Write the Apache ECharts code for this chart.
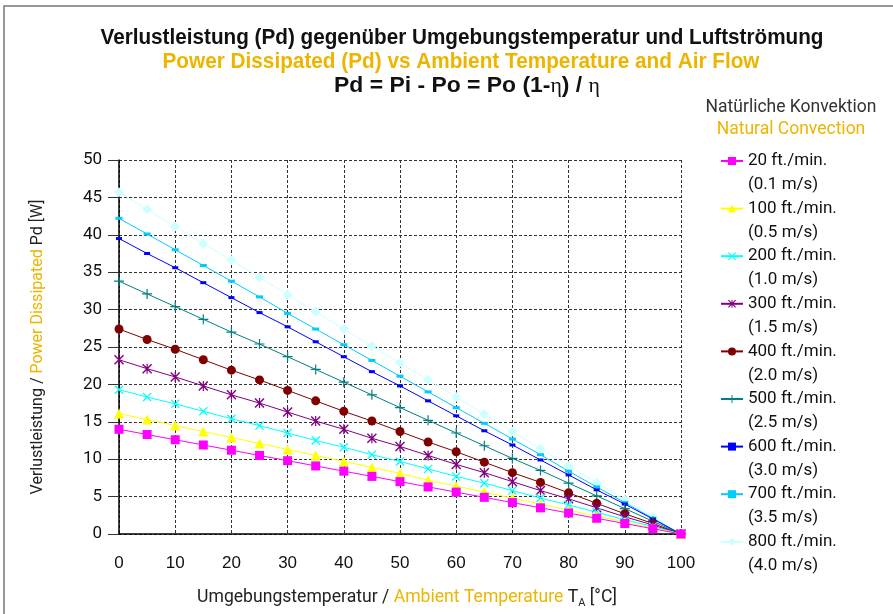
<!DOCTYPE html>
<html><head><meta charset="utf-8">
<script src="https://cdn.jsdelivr.net/npm/echarts@6/dist/echarts.min.js"></script>
<style>html,body{margin:0;padding:0;background:#fff}#c{width:893px;height:614px}</style>
</head><body><div id="c"></div>
<script>
const temps = [0,5,10,15,20,25,30,35,40,45,50,55,60,65,70,75,80,85,90,95,100];
const names = ['20 ft./min.','100 ft./min.','200 ft./min.','300 ft./min.','400 ft./min.','500 ft./min.','600 ft./min.','700 ft./min.','800 ft./min.'];
const speeds = ['(0.1 m/s)','(0.5 m/s)','(1.0 m/s)','(1.5 m/s)','(2.0 m/s)','(2.5 m/s)','(3.0 m/s)','(3.5 m/s)','(4.0 m/s)'];
const s20  = [14.0,13.3,12.6,11.9,11.2,10.5,9.8,9.1,8.4,7.7,7.0,6.3,5.6,4.9,4.2,3.5,2.8,2.1,1.4,0.7,0];
const s100 = [16.1,15.3,14.5,13.7,12.9,12.1,11.3,10.5,9.7,8.9,8.1,7.2,6.4,5.6,4.8,4.0,3.2,2.4,1.6,0.8,0];
const s200 = [19.3,18.3,17.4,16.4,15.4,14.5,13.5,12.5,11.6,10.6,9.7,8.7,7.7,6.8,5.8,4.8,3.9,2.9,1.9,1.0,0];
const s300 = [23.3,22.1,21.0,19.8,18.6,17.5,16.3,15.1,14.0,12.8,11.7,10.5,9.3,8.2,7.0,5.8,4.7,3.5,2.3,1.2,0];
const s400 = [27.4,26.0,24.7,23.3,21.9,20.6,19.2,17.8,16.4,15.1,13.7,12.3,11.0,9.6,8.2,6.9,5.5,4.1,2.7,1.4,0];
const s500 = [33.8,32.1,30.4,28.7,27.0,25.4,23.7,22.0,20.3,18.6,16.9,15.2,13.5,11.8,10.1,8.5,6.8,5.1,3.4,1.7,0];
const s600 = [39.5,37.5,35.6,33.6,31.6,29.6,27.7,25.7,23.7,21.7,19.8,17.8,15.8,13.8,11.9,9.9,7.9,5.9,4.0,2.0,0];
const s700 = [42.2,40.1,38.0,35.9,33.8,31.7,29.5,27.4,25.3,23.2,21.1,19.0,16.9,14.8,12.7,10.6,8.4,6.3,4.2,2.1,0];
const s800 = [45.7,43.4,41.1,38.8,36.6,34.3,32.0,29.7,27.4,25.1,22.9,20.6,18.3,16.0,13.7,11.4,9.1,6.9,4.6,2.3,0];
const seriesValues = [s20,s100,s200,s300,s400,s500,s600,s700,s800];
const title1 = 'Verlustleistung (Pd) gegenüber Umgebungstemperatur und Luftströmung';
const title2 = 'Power Dissipated (Pd) vs Ambient Temperature and Air Flow';
const title3a = 'Pd = Pi - Po = Po (1-', title3b = ') / ', eta = 'η';

const colors = ['#FF00FF','#FFFF00','#00FFFF','#800080','#800000','#008080','#0000FF','#00CCFF','#CCFFFF'];
const xPath = 'M1,0L5,4L9,0L10,1L6,5L10,9L9,10L5,6L1,10L0,9L4,5L0,1Z';
const symbols = [
  ['rect', 9],
  ['triangle', 10],
  ['path://' + xPath, 9],
  ['path://' + xPath + 'M4.4,0L5.6,0L5.6,10L4.4,10Z', 10],
  ['circle', 9],
  ['path://M4.4,0H5.6V4.4H10V5.6H5.6V10H4.4V5.6H0V4.4H4.4Z', 10],
  ['rect', [6,3]],
  ['rect', [7,3]],
  ['diamond', 10]
];
const YEL = '#EDB500';
const TF = '"Liberation Sans", Arial, sans-serif';
const SERIF = '"Liberation Serif", "DejaVu Serif", serif';
const ctx = document.createElement('canvas').getContext('2d');
function textW(t, font) { ctx.font = font; return ctx.measureText(t).width; }
const bFont = 'bold 22px ' + TF, eFont = '21px ' + SERIF;
const sc1 = 723 / textW(title1, bFont);
const sc2 = 597 / textW(title2, bFont);
const sc3 = 266 / (textW(title3a, bFont) + textW(title3b, bFont) + 2 * textW(eta, eFont));

const chart = echarts.init(document.getElementById('c'));
const series = names.map((n, i) => ({
  name: n, type: 'line',
  data: temps.map((t, j) => [t, seriesValues[i][j]]),
  symbol: symbols[i][0], symbolSize: symbols[i][1], showSymbol: true,
  itemStyle: {color: colors[i]},
  lineStyle: {color: colors[i], width: 1},
  animation: false, z: 3 + (8 - i)
}));
const legendText = {fontFamily: 'Roboto, sans-serif', fontSize: 17, color: '#111', lineHeight: 24};
chart.setOption({
  animation: false,
  title: [
    {text: 'Natürliche Konvektion', left: 786, top: 94, textAlign: 'center',
     textStyle: {fontFamily: 'Roboto, sans-serif', fontWeight: 'normal', fontSize: 17.5, color: '#333'}},
    {text: 'Natural Convection', left: 786, top: 116, textAlign: 'center',
     textStyle: {fontFamily: 'Roboto, sans-serif', fontWeight: 'normal', fontSize: 17.5, color: YEL}}
  ],
  legend: [{
    orient: 'vertical', left: 715, top: 144, itemWidth: 22, itemHeight: 10, itemGap: 23.6, itemTextGap: 5,
    selectedMode: false, data: names, textStyle: legendText
  }, {
    orient: 'vertical', left: 715, top: 168, itemWidth: 22, itemHeight: 10, itemGap: 23.6, itemTextGap: 5,
    selectedMode: false, data: names, textStyle: legendText,
    formatter: (n) => speeds[names.indexOf(n)],
    itemStyle: {opacity: 0}, lineStyle: {opacity: 0}
  }],
  grid: {left: 119, right: 212, top: 160, bottom: 77},
  xAxis: {
    type: 'value', min: 0, max: 100, interval: 10,
    axisLine: {show: true, lineStyle: {color: '#000', width: 1.5}},
    axisTick: {show: false},
    axisLabel: {margin: 21, fontFamily: TF, fontSize: 17, color: '#111'},
    splitLine: {show: true, lineStyle: {color: '#333', type: [3,2], width: 1}},
    name: '{n|Umgebungstemperatur / }{y|Ambient Temperature}{n| T}{s|A}{n| [°C]}',
    nameLocation: 'middle', nameGap: 52,
    nameTextStyle: {padding: [0, 0, 0, 14], rich: {
      n: {fontFamily: 'Roboto, sans-serif', fontSize: 17.6, color: '#222'},
      y: {fontFamily: 'Roboto, sans-serif', fontSize: 17.6, color: YEL},
      s: {fontFamily: 'Roboto, sans-serif', fontSize: 11, color: '#222', padding: [12,0,0,0]}
    }}
  },
  yAxis: {
    type: 'value', min: 0, max: 50, interval: 5,
    axisLine: {show: true, lineStyle: {color: '#000', width: 1.5}},
    axisTick: {show: true, length: 11, lineStyle: {color: '#333'}},
    axisLabel: {margin: 17, fontFamily: 'Roboto, sans-serif', fontSize: 17, color: '#111'},
    splitLine: {show: true, lineStyle: {color: '#333', type: [3,2], width: 1}},
    name: '{n|Verlustleistung / }{y|Power Dissipated}{n| Pd [W]}',
    nameLocation: 'middle', nameGap: 73, nameRotate: 90,
    nameTextStyle: {rich: {
      n: {fontFamily: 'Roboto, sans-serif', fontSize: 16, color: '#222'},
      y: {fontFamily: 'Roboto, sans-serif', fontSize: 16, color: YEL}
    }}
  },
  graphic: [
    {type: 'rect', shape: {x: 4, y: 6, width: 1000, height: 1000}, style: {fill: 'none', stroke: '#777', lineWidth: 1.5}, silent: true},
    {type: 'text', x: 462, y: 38, scaleX: sc1, silent: true,
     style: {text: title1, font: bFont, fill: '#111', textAlign: 'center', textVerticalAlign: 'middle'}},
    {type: 'text', x: 461, y: 62, scaleX: sc2, silent: true,
     style: {text: title2, font: bFont, fill: YEL, textAlign: 'center', textVerticalAlign: 'middle'}},
    {type: 'text', x: 467, y: 86, scaleX: sc3, silent: true,
     style: {text: '{b|' + title3a + '}{e|' + eta + '}{b|' + title3b + '}{e|' + eta + '}', textAlign: 'center', textVerticalAlign: 'middle',
       rich: {b: {font: bFont, fill: '#111'}, e: {font: eFont, fill: '#111'}}}}
  ],
  series: series
});
</script></body></html>
